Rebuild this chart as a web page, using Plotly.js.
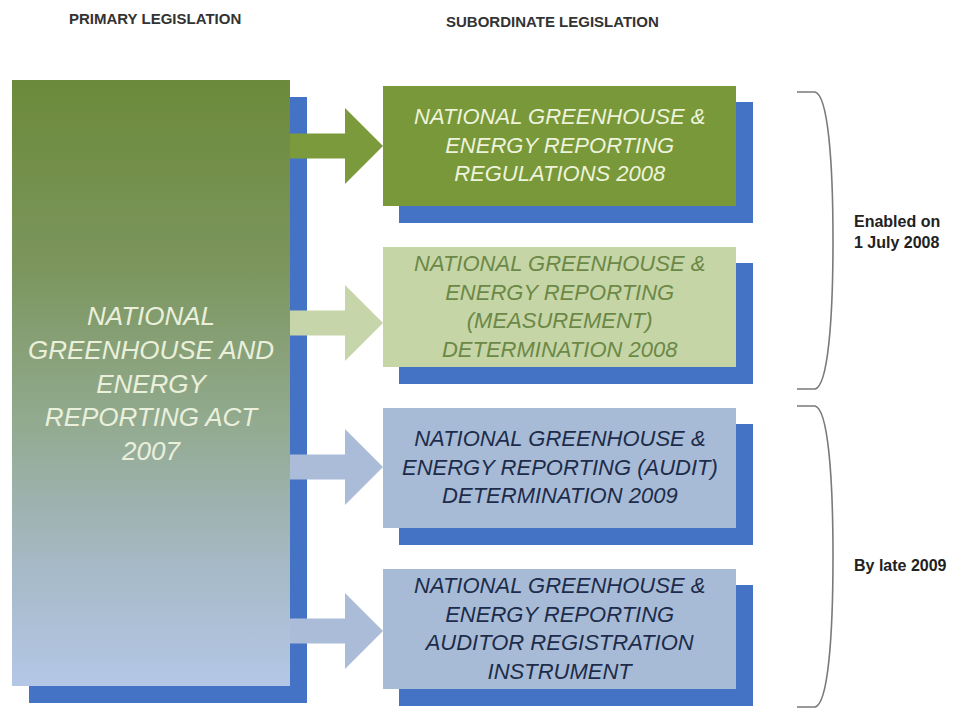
<!DOCTYPE html>
<html>
<head>
<meta charset="utf-8">
<script src="https://cdn.plot.ly/plotly-3.0.1.min.js"></script>
<style>html,body{margin:0;padding:0;background:#fff;}#chart{width:956px;height:709px;}</style>
</head>
<body>
<div id="chart"></div>
<script>
// ---- content ----
var headerLabels = ['PRIMARY LEGISLATION', 'SUBORDINATE LEGISLATION'];
var actLabel = 'NATIONAL<br>GREENHOUSE AND<br>ENERGY<br>REPORTING ACT<br>2007';
var instrumentLabels = [
  'NATIONAL GREENHOUSE &<br>ENERGY REPORTING<br>REGULATIONS 2008',
  'NATIONAL GREENHOUSE &<br>ENERGY REPORTING<br>(MEASUREMENT)<br>DETERMINATION 2008',
  'NATIONAL GREENHOUSE &<br>ENERGY REPORTING (AUDIT)<br>DETERMINATION 2009',
  'NATIONAL GREENHOUSE &<br>ENERGY REPORTING<br>AUDITOR REGISTRATION<br>INSTRUMENT'
];
var groupLabels = ['Enabled on<br>1 July 2008', 'By late 2009'];

// ---- styling / layout ----
var SHADOW = '#4472c4';
var boxFill = ['#789839', '#c5d5a6', '#a8bbd6', '#a8bbd6'];
var arrowFill = ['#7a9a3b', '#c7d6aa', '#aabcd7', '#aabcd7'];
var textCol = ['#eef3dc', '#6c8846', '#1d2c4a', '#1d2c4a'];
var boxTop = [86, 247, 408, 569];
var boxH = 120;
var boxX0 = 383, boxX1 = 736, off = 16;
var arrowCy = [146, 323, 467, 631];

var left = {x0: 12, x1: 290, y0: 80, y1: 686};

var shapes = [];
// left shadow
shapes.push({type: 'rect', xref: 'x', yref: 'y', layer: 'below',
  x0: left.x0 + 17, x1: left.x1 + 17, y0: left.y0 + 17, y1: left.y1 + 17,
  fillcolor: SHADOW, line: {width: 0}});

// arrows
arrowCy.forEach(function (cy, i) {
  var xs = left.x1, xb = 345, xt = 383, hs = 12.5, hh = 38;
  var p = 'M' + xs + ',' + (cy - hs) + ' L' + xb + ',' + (cy - hs) + ' L' + xb + ',' + (cy - hh) +
    ' L' + xt + ',' + cy + ' L' + xb + ',' + (cy + hh) + ' L' + xb + ',' + (cy + hs) +
    ' L' + xs + ',' + (cy + hs) + ' Z';
  shapes.push({type: 'path', path: p, xref: 'x', yref: 'y', layer: 'above',
    fillcolor: arrowFill[i], line: {width: 0}});
});

// right boxes
boxTop.forEach(function (t, i) {
  shapes.push({type: 'rect', xref: 'x', yref: 'y', layer: 'above',
    x0: boxX0 + off, x1: boxX1 + off + 1, y0: t + off, y1: t + boxH + off + 1,
    fillcolor: SHADOW, line: {width: 0}});
  shapes.push({type: 'rect', xref: 'x', yref: 'y', layer: 'above',
    x0: boxX0, x1: boxX1, y0: t, y1: t + boxH,
    fillcolor: boxFill[i], line: {width: 0}});
});

// braces
var braceSpans = [[92, 389], [406, 707]];
braceSpans.forEach(function (s) {
  var a = s[0], b = s[1], m = (a + b) / 2;
  var p = 'M797,' + a + ' L815,' + a +
    ' C828,' + (a + 3) + ' 833,' + (a + 70) + ' 833,' + m +
    ' C833,' + (b - 70) + ' 828,' + (b - 3) + ' 815,' + b + ' L797,' + b;
  shapes.push({type: 'path', path: p, xref: 'x', yref: 'y', layer: 'above',
    line: {color: '#7a7a7a', width: 1.6}});
});

var annotations = [];
var F = 'Liberation Sans';
annotations.push({x: 155, y: 18, text: '<b>' + headerLabels[0] + '</b>', showarrow: false,
  xref: 'x', yref: 'y', font: {family: F, size: 15, color: '#333333'}});
annotations.push({x: 552, y: 21, text: '<b>' + headerLabels[1] + '</b>', showarrow: false,
  xref: 'x', yref: 'y', font: {family: F, size: 15, color: '#333333'}});
annotations.push({x: 151, y: 383, text: '<i>' + actLabel + '</i>', showarrow: false,
  xref: 'x', yref: 'y', font: {family: F, size: 26, color: '#eaf0dc'}});
instrumentLabels.forEach(function (lab, i) {
  annotations.push({x: (boxX0 + boxX1) / 2, y: boxTop[i] + boxH / 2 - 1,
    text: '<i>' + lab + '</i>', showarrow: false, xref: 'x', yref: 'y',
    font: {family: F, size: 22, color: textCol[i]}});
});
var groupY = [232, 565];
groupLabels.forEach(function (lab, i) {
  annotations.push({x: 852, y: groupY[i], text: '<b>' + lab + '</b>', showarrow: false,
    xref: 'x', yref: 'y', xanchor: 'left', align: 'left',
    font: {family: F, size: 16, color: '#222222'}});
});

var traces = [{
  type: 'scatter', mode: 'lines',
  x: [left.x0, left.x1, left.x1, left.x0, left.x0],
  y: [left.y0, left.y0, left.y1, left.y1, left.y0],
  fill: 'toself',
  fillgradient: {type: 'vertical', start: left.y0, stop: left.y1,
    colorscale: [[0, '#6c8a3a'], [0.3, '#7b955c'], [0.55, '#91a98c'], [0.8, '#a6b9c6'], [1, '#b4c7e6']]},
  line: {width: 0}, hoverinfo: 'skip', showlegend: false
}];

var layout = {
  width: 956, height: 709,
  margin: {l: 0, r: 0, t: 0, b: 0},
  paper_bgcolor: '#ffffff', plot_bgcolor: '#ffffff',
  xaxis: {range: [0, 956], visible: false, fixedrange: true},
  yaxis: {range: [709, 0], visible: false, fixedrange: true},
  showlegend: false,
  shapes: shapes,
  annotations: annotations
};

Plotly.newPlot('chart', traces, layout, {displayModeBar: false, staticPlot: true});
</script>
</body>
</html>
